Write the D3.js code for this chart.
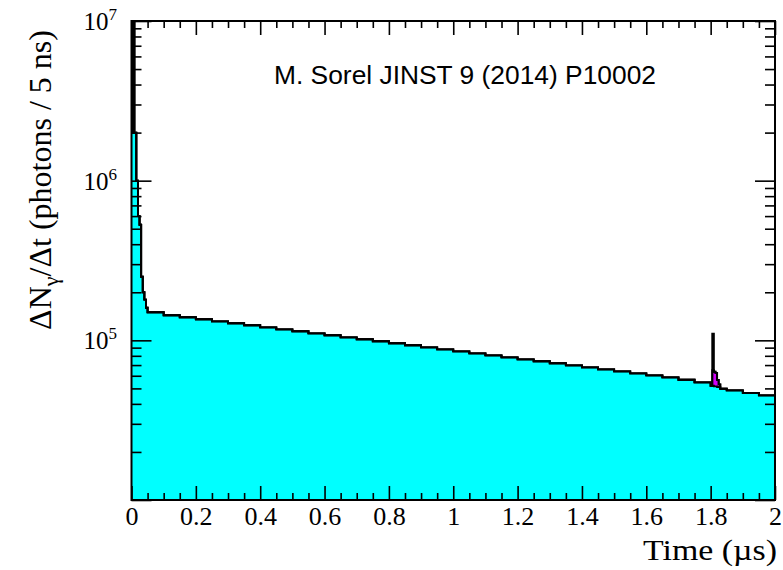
<!DOCTYPE html>
<html>
<head>
<meta charset="utf-8">
<script src="https://cdn.jsdelivr.net/npm/d3@7"></script>
<style>
  body { margin: 0; background: #fff; }
  svg { display: block; }
</style>
</head>
<body>
<svg id="chart" width="783" height="570"></svg>
<script>
// Bin edges in microseconds: 5 ns bins around the two prompt peaks, 50 ns bins elsewhere
const binEdges = [
  0, 0.005, 0.01, 0.015, 0.02, 0.025, 0.03, 0.035, 0.04, 0.045, 0.05,
  0.1, 0.15, 0.2, 0.25, 0.3, 0.35, 0.4, 0.45, 0.5, 0.55, 0.6, 0.65, 0.7, 0.75,
  0.8, 0.85, 0.9, 0.95, 1.0, 1.05, 1.1, 1.15, 1.2, 1.25, 1.3, 1.35, 1.4, 1.45,
  1.5, 1.55, 1.6, 1.65, 1.7, 1.75, 1.8,
  1.805, 1.81, 1.815, 1.82, 1.825, 1.83,
  1.85, 1.9, 1.95, 2.0
];

// Photons per 5 ns, one value per bin
const primaryLight = [
  2.0e6, 2.0e6, 2.0e6, 1.0e6, 6.0e5, 5.3e5, 2.5e5, 2.0e5, 1.8e5, 1.6e5,
  1.50e5, 1.435e5, 1.394e5, 1.354e5, 1.315e5, 1.278e5, 1.242e5, 1.206e5, 1.172e5, 1.139e5,
  1.106e5, 1.075e5, 1.044e5, 1.015e5, 9.86e4, 9.58e4, 9.31e4, 9.04e4, 8.78e4, 8.53e4,
  8.29e4, 8.05e4, 7.82e4, 7.60e4, 7.39e4, 7.18e4, 6.97e4, 6.77e4, 6.58e4, 6.39e4,
  6.21e4, 6.03e4, 5.86e4, 5.66e4, 5.45e4,
  5.2e4, 5.2e4, 5.15e4, 5.15e4, 5.1e4, 5.1e4,
  4.98e4, 4.86e4, 4.69e4, 4.52e4
];

const delayedLight = [
  0, 0, 0, 0, 0, 0, 0, 0, 0, 0,
  0, 0, 0, 0, 0, 0, 0, 0, 0, 0,
  0, 0, 0, 0, 0, 0, 0, 0, 0, 0,
  0, 0, 0, 0, 0, 0, 0, 0, 0, 0,
  0, 0, 0, 0, 0,
  0, 1.3e4, 1.2e4, 1.1e4, 5.5e3, 2.0e3,
  0, 0, 0, 0
];

const promptLight = [
  1.4e7, 1.2e7, 0, 0, 0, 0, 0, 0, 0, 0,
  0, 0, 0, 0, 0, 0, 0, 0, 0, 0,
  0, 0, 0, 0, 0, 0, 0, 0, 0, 0,
  0, 0, 0, 0, 0, 0, 0, 0, 0, 0,
  0, 0, 0, 0, 0,
  0, 4.5e4, 0, 0, 0, 0,
  0, 0, 0, 0
];

const seriesKeys = ["primary", "delayed", "prompt"];
const seriesColors = { primary: "#00ffff", delayed: "#d000f8", prompt: "#000000" };

const xTickLabels = [0, 0.2, 0.4, 0.6, 0.8, 1, 1.2, 1.4, 1.6, 1.8, 2];
const yDecadeExponents = [4, 5, 6, 7];
const yLabelledExponents = [5, 6, 7];

const xTitle = "Time (\u00b5s)";
const noteText = "M. Sorel JINST 9 (2014) P10002";

// ---- layout ----
const svg = d3.select("#chart");
const plotLeft = 131.5, plotRight = 775, plotTop = 21, plotBottom = 500;
const yMin = 1e4, yMax = 1e7;

const x = d3.scaleLinear().domain([0, 2]).range([plotLeft, plotRight]);
const y = d3.scaleLog().domain([yMin, yMax]).range([plotBottom, plotTop]).clamp(true);

svg.append("defs").append("clipPath").attr("id", "frameClip")
  .append("rect").attr("x", plotLeft).attr("y", plotTop)
  .attr("width", plotRight - plotLeft).attr("height", plotBottom - plotTop);

// ---- stacked histogram ----
const rows = primaryLight.map((v, i) => ({
  t0: binEdges[i], t1: binEdges[i + 1],
  primary: v, delayed: delayedLight[i], prompt: promptLight[i]
}));
const layers = d3.stack().keys(seriesKeys)(rows);

function stepPoints(layer) {
  const pts = layer.map(d => ({ t: d.data.t0, lo: d[0], hi: d[1] }));
  const last = layer[layer.length - 1];
  pts.push({ t: last.data.t1, lo: last[0], hi: last[1] });
  return pts;
}
const yv = v => y(Math.max(v, yMin));

const area = d3.area().curve(d3.curveStepAfter)
  .x(d => x(d.t)).y0(d => yv(d.lo)).y1(d => yv(d.hi));
const line = d3.line().curve(d3.curveStepAfter)
  .x(d => x(d.t)).y(d => yv(d.hi));

const plot = svg.append("g").attr("clip-path", "url(#frameClip)");
plot.selectAll("path.fill").data(layers).join("path")
  .attr("class", "fill")
  .attr("d", l => area(stepPoints(l)))
  .attr("fill", l => seriesColors[l.key])
  .attr("stroke", "none");
plot.selectAll("path.edge").data(layers).join("path")
  .attr("class", "edge")
  .attr("d", l => line(stepPoints(l)))
  .attr("fill", "none")
  .attr("stroke", "#000")
  .attr("stroke-width", 1.9);

// ---- ticks ----
const xMinor = d3.range(0, 41).filter(i => i % 4 !== 0).map(i => i * 0.05);
const yMajor = yDecadeExponents.map(e => Math.pow(10, e));
const yMinor = [];
yDecadeExponents.slice(0, -1).forEach(e => {
  for (let k = 2; k <= 9; k++) yMinor.push(k * Math.pow(10, e));
});

function styleAxis(g) {
  g.select(".domain").remove();
  g.selectAll(".tick line").attr("stroke", "#000").attr("stroke-width", 1.6);
  return g;
}

svg.append("g").attr("transform", `translate(0,${plotBottom})`)
  .call(d3.axisBottom(x).tickValues(xTickLabels).tickSize(-14).tickPadding(7)
    .tickFormat(d3.format("~g")))
  .call(styleAxis)
  .call(g => g.selectAll("text")
    .attr("font-family", "'Liberation Serif', 'Times New Roman', serif")
    .attr("font-size", 26).attr("fill", "#000"));
svg.append("g").attr("transform", `translate(0,${plotBottom})`)
  .call(d3.axisBottom(x).tickValues(xMinor).tickSize(-7).tickFormat(""))
  .call(styleAxis);
svg.append("g").attr("transform", `translate(0,${plotTop})`)
  .call(d3.axisTop(x).tickValues(xTickLabels).tickSize(-14).tickFormat(""))
  .call(styleAxis);
svg.append("g").attr("transform", `translate(0,${plotTop})`)
  .call(d3.axisTop(x).tickValues(xMinor).tickSize(-7).tickFormat(""))
  .call(styleAxis);

svg.append("g").attr("transform", `translate(${plotLeft},0)`)
  .call(d3.axisLeft(y).tickValues(yMajor).tickSize(-20).tickFormat(""))
  .call(styleAxis);
svg.append("g").attr("transform", `translate(${plotLeft},0)`)
  .call(d3.axisLeft(y).tickValues(yMinor).tickSize(-10).tickFormat(""))
  .call(styleAxis);
svg.append("g").attr("transform", `translate(${plotRight},0)`)
  .call(d3.axisRight(y).tickValues(yMajor).tickSize(-20).tickFormat(""))
  .call(styleAxis);
svg.append("g").attr("transform", `translate(${plotRight},0)`)
  .call(d3.axisRight(y).tickValues(yMinor).tickSize(-10).tickFormat(""))
  .call(styleAxis);

// y labels as powers of ten
const yLab = svg.append("g")
  .attr("font-family", "'Liberation Serif', 'Times New Roman', serif")
  .attr("fill", "#000");
yLabelledExponents.forEach(e => {
  const t = yLab.append("text")
    .attr("x", 117).attr("y", y(Math.pow(10, e)) + 9)
    .attr("text-anchor", "end");
  t.append("tspan").attr("font-size", 25).text("10");
  t.append("tspan").attr("font-size", 17).attr("dy", -10).text(String(e));
});

// frame
svg.append("rect")
  .attr("x", plotLeft).attr("y", plotTop)
  .attr("width", plotRight - plotLeft).attr("height", plotBottom - plotTop)
  .attr("fill", "none").attr("stroke", "#000").attr("stroke-width", 2);

// axis titles
svg.append("text")
  .attr("x", 777).attr("y", 560)
  .attr("text-anchor", "end")
  .attr("font-family", "'Liberation Serif', 'Times New Roman', serif")
  .attr("font-size", 30)
  .attr("textLength", 134)
  .attr("lengthAdjust", "spacingAndGlyphs")
  .attr("fill", "#000")
  .text(xTitle);

const yTitle = svg.append("text")
  .attr("transform", "translate(51,180) rotate(-90)")
  .attr("text-anchor", "middle")
  .attr("font-family", "'Liberation Serif', 'Times New Roman', serif")
  .attr("font-size", 32)
  .attr("fill", "#000");
yTitle.append("tspan").text("\u0394N");
yTitle.append("tspan").attr("font-size", 22).attr("dy", 7).text("\u03b3");
yTitle.append("tspan").attr("dy", -7).text("/\u0394t (photons / 5 ns)");

// reference note
svg.append("text")
  .attr("x", 274).attr("y", 84)
  .attr("font-family", "'Liberation Sans', Arial, sans-serif")
  .attr("font-size", 26)
  .attr("textLength", 382)
  .attr("lengthAdjust", "spacingAndGlyphs")
  .attr("fill", "#000")
  .text(noteText);
</script>
</body>
</html>
